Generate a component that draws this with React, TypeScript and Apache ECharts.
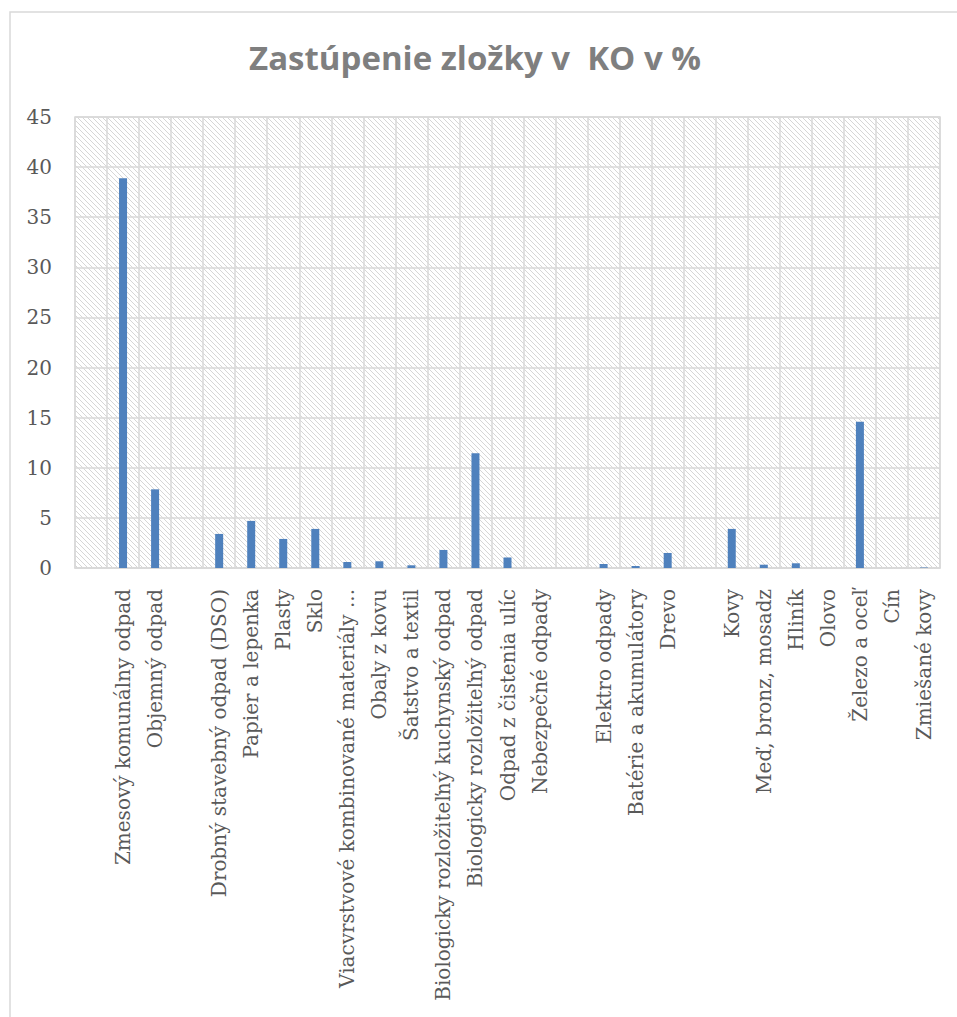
import React, { useEffect, useRef } from "react";
import * as echarts from "echarts";

const categories: string[] = [
  "",
  "Zmesový komunálny odpad",
  "Objemný odpad",
  "",
  "Drobný stavebný odpad (DSO)",
  "Papier a lepenka",
  "Plasty",
  "Sklo",
  "Viacvrstvové kombinované materiály ...",
  "Obaly z kovu",
  "Šatstvo a textil",
  "Biologicky rozložiteľný kuchynský odpad",
  "Biologicky rozložiteľný odpad",
  "Odpad z čistenia ulíc",
  "Nebezpečné odpady",
  "",
  "Elektro odpady",
  "Batérie a akumulátory",
  "Drevo",
  "",
  "Kovy",
  "Meď, bronz, mosadz",
  "Hliník",
  "Olovo",
  "Železo a oceľ",
  "Cín",
  "Zmiešané kovy",
];

const values: (number | null)[] = [
  null, 38.9, 7.85, null, 3.4, 4.7, 2.9, 3.9, 0.6, 0.67, 0.27, 1.8, 11.45, 1.05, 0,
  null, 0.4, 0.2, 1.5, null, 3.9, 0.33, 0.47, 0, 14.6, 0, 0.05,
];

const yTicks = { min: 0, max: 45, interval: 5 };

const title = "Zastúpenie zložky v  KO v %";

function makeHatch(): string {
  const c = document.createElement("canvas");
  const n = 5;
  c.width = n;
  c.height = n;
  const ctx = c.getContext("2d")!;
  ctx.fillStyle = "#ffffff";
  ctx.fillRect(0, 0, n, n);
  ctx.fillStyle = "#d6d6d6";
  for (let i = 0; i < n; i++) ctx.fillRect(i, i, 1, 1);
  return c.toDataURL("image/png");
}

export default function App() {
  const ref = useRef<HTMLDivElement>(null);
  useEffect(() => {
    document.body.style.margin = "0";
    const chart = echarts.init(ref.current!, undefined, { renderer: "svg" });
    const hatch = makeHatch();
    chart.setOption({
      animation: false,
      backgroundColor: "#ffffff",
      title: {
        text: title,
        left: 470,
        textAlign: "center",
        top: 36,
        textStyle: {
          fontFamily: "Open Sans",
          fontWeight: "bold",
          fontSize: 33,
          color: "#7f7f7f",
        },
      },
      graphic: [
        {
          type: "rect",
          shape: { x: 10, y: 12, width: 980, height: 1040 },
          style: { fill: "none", stroke: "#d9d9d9", lineWidth: 1.5 },
          silent: true,
        },
      ],
      grid: {
        left: 75,
        right: 17,
        top: 117,
        bottom: 449,
        show: true,
        backgroundColor: { image: hatch, repeat: "repeat" },
        borderColor: "#d9d9d9",
        borderWidth: 1.5,
      },
      xAxis: {
        type: "category",
        data: categories,
        axisTick: { show: false },
        axisLine: { show: true, lineStyle: { color: "#d9d9d9", width: 1.5 } },
        splitLine: { show: true, interval: 0, lineStyle: { color: "#d9d9d9", width: 1.5 } },
        axisLabel: {
          interval: 0,
          rotate: 90,
          margin: 21,
          fontFamily: "DejaVu Serif",
          fontSize: 20,
          color: "#595959",
        },
      },
      yAxis: {
        type: "value",
        min: yTicks.min,
        max: yTicks.max,
        interval: yTicks.interval,
        axisLine: { show: false },
        axisTick: { show: false },
        splitLine: { show: true, lineStyle: { color: "#d9d9d9", width: 1.5 } },
        axisLabel: {
          margin: 23,
          fontFamily: "DejaVu Serif",
          fontSize: 20,
          color: "#595959",
        },
      },
      series: [
        {
          type: "bar",
          data: values,
          barWidth: 8,
          itemStyle: { color: "#4f81bd" },
        },
      ],
    });
    return () => chart.dispose();
  }, []);
  return <div ref={ref} style={{ width: 957, height: 1017 }} />;
}
